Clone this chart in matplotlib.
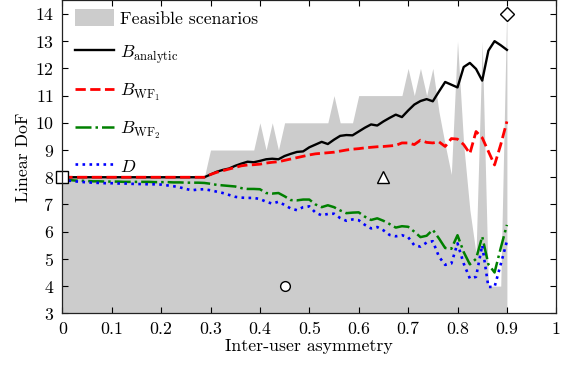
import numpy as np
import matplotlib
matplotlib.use("Agg")
import matplotlib.pyplot as plt
from matplotlib.patches import Patch
from matplotlib.lines import Line2D

plt.rcParams['font.family'] = ['cmr10', 'DejaVu Serif']
plt.rcParams['mathtext.fontset'] = 'cm'
plt.rcParams['axes.formatter.use_mathtext'] = True

# ---- data (inter-user asymmetry grid: 0 .. 0.9, step 0.0125) ----
asym = [i * 0.0125 for i in range(73)]

feasible_upper = [8] * 24 + [9] * 8 + [10, 9, 10, 9] + [10] * 8 + [11, 10, 10, 10] + [11] * 8 + \
    [12, 11, 12, 11, 12, 10.4, 9.2, 8.1, 13, 9.2, 6.8, 5.2, 13, 4, 4, 4, 14.5]
feasible_lower = 3

B_analytic = [8.0] * 24 + [8.1, 8.2, 8.27, 8.32, 8.42, 8.5, 8.57, 8.55, 8.6, 8.66, 8.68, 8.66,
              8.78, 8.86, 8.93, 8.95, 9.1, 9.2, 9.3, 9.22, 9.38, 9.52, 9.55, 9.54, 9.68, 9.82,
              9.94, 9.9, 10.05, 10.18, 10.3, 10.21, 10.45, 10.67, 10.8, 10.87, 10.79, 11.15,
              11.5, 11.4, 11.3, 12.05, 12.2, 11.98, 11.55, 12.65, 13.0, 12.85, 12.68]

B_WF1 = [8.0] * 24 + [8.1, 8.18, 8.24, 8.3, 8.36, 8.42, 8.45, 8.46, 8.48, 8.52, 8.55, 8.57,
         8.62, 8.67, 8.72, 8.77, 8.82, 8.86, 8.88, 8.9, 8.92, 8.96, 9.0, 9.03, 9.05, 9.08,
         9.1, 9.12, 9.13, 9.15, 9.17, 9.26, 9.26, 9.2, 9.36, 9.28, 9.26, 9.3, 9.13, 9.42,
         9.4, 9.2, 8.87, 9.68, 9.45, 8.95, 8.45, 9.2, 10.05]

B_WF2 = [8.0, 7.9, 7.88, 7.87, 7.86, 7.85, 7.85, 7.84, 7.84, 7.84, 7.83, 7.83, 7.83, 7.83,
         7.83, 7.82, 7.82, 7.82, 7.81, 7.81, 7.8, 7.8, 7.8, 7.79, 7.76, 7.72, 7.7, 7.68,
         7.66, 7.6, 7.57, 7.57, 7.56, 7.42, 7.4, 7.42, 7.3, 7.16, 7.15, 7.18, 7.18, 7.0,
         6.9, 6.97, 6.9, 6.78, 6.68, 6.7, 6.71, 6.55, 6.43, 6.49, 6.4, 6.28, 6.15, 6.2,
         6.18, 6.0, 5.8, 5.85, 6.07, 5.75, 5.4, 5.37, 5.87, 5.25, 4.8, 5.0, 5.82, 4.8,
         4.5, 5.4, 6.25]

D = [8.0, 7.88, 7.85, 7.83, 7.81, 7.8, 7.79, 7.78, 7.78, 7.77, 7.77, 7.76, 7.75, 7.75,
     7.74, 7.74, 7.73, 7.7, 7.67, 7.63, 7.57, 7.52, 7.55, 7.56, 7.52, 7.47, 7.42, 7.35,
     7.28, 7.25, 7.24, 7.24, 7.2, 7.1, 7.03, 7.1, 6.98, 6.85, 6.79, 6.9, 6.93, 6.7, 6.6,
     6.65, 6.66, 6.5, 6.4, 6.45, 6.42, 6.25, 6.12, 6.17, 6.05, 5.88, 5.83, 5.87, 5.8,
     5.5, 5.45, 5.6, 5.65, 5.08, 4.78, 4.83, 5.57, 4.83, 4.28, 4.34, 5.5, 3.97, 3.97,
     4.8, 5.65]

# special scenarios (markers)
square_pt = (0.0, 8)
circle_pt = (0.45, 4)
triangle_pt = (0.65, 8)
diamond_pt = (0.9, 14)

xticks = [0, 0.1, 0.2, 0.3, 0.4, 0.5, 0.6, 0.7, 0.8, 0.9, 1]
xtick_labels = ['0', '0.1', '0.2', '0.3', '0.4', '0.5', '0.6', '0.7', '0.8', '0.9', '1']
yticks = list(range(3, 15))

# ---- figure ----
fig = plt.figure(figsize=(5.69, 3.68), dpi=100)
ax = fig.add_axes([0.1095, 0.1486, 0.8682, 0.8505])

fs = 12.8
ax.fill_between(asym, feasible_lower, feasible_upper, color='#cccccc', lw=0, zorder=1)
ax.plot(asym, B_analytic, color='black', lw=1.7, ls='-', zorder=4)
ax.plot(asym, B_WF1, color='#ff0000', lw=2.0, ls='--', zorder=4)
ax.plot(asym, B_WF2, color='#008000', lw=1.8, ls='-.', zorder=3)
ax.plot(asym, D, color='#0000ff', lw=1.9, ls=':', zorder=3)

mk = dict(mfc='white', mec='black', mew=1.0, ls='none', zorder=6, clip_on=False)
ax.plot([square_pt[0]], [square_pt[1]], marker='s', ms=8, **mk)
ax.plot([circle_pt[0]], [circle_pt[1]], marker='o', ms=7, **mk)
ax.plot([triangle_pt[0]], [triangle_pt[1]], marker='^', ms=9, **mk)
ax.plot([diamond_pt[0]], [diamond_pt[1]], marker='D', ms=7, **mk)

ax.set_xlim(0, 1)
ax.set_ylim(3, 14.5)
ax.set_xticks(xticks)
ax.set_xticklabels(xtick_labels)
ax.set_yticks(yticks)
ax.tick_params(direction='in', top=True, right=True, length=4, width=0.8,
               labelsize=fs, pad=6)
for s in ax.spines.values():
    s.set_linewidth(0.9)
    s.set_color('#222222')
    s.set_zorder(7)

ax.set_xlabel('Inter-user asymmetry', fontsize=fs, labelpad=1)
ax.set_ylabel('Linear DoF', fontsize=fs, labelpad=3)

handles = [Patch(facecolor='#cccccc', edgecolor='none'),
           Line2D([], [], color='black', lw=1.7, ls='-'),
           Line2D([], [], color='#ff0000', lw=2.0, ls='--'),
           Line2D([], [], color='#008000', lw=1.8, ls='-.'),
           Line2D([], [], color='#0000ff', lw=1.9, ls=':')]
labels = ['Feasible scenarios', r'$B_{\mathrm{analytic}}$', r'$B_{\mathrm{WF}_1}$',
          r'$B_{\mathrm{WF}_2}$', r'$D$']
leg = ax.legend(handles, labels, loc='upper left', bbox_to_anchor=(0.011, 0.995),
                frameon=False, fontsize=fs, handlelength=2.2, handleheight=1.1,
                handletextpad=0.35, labelspacing=0.9, borderpad=0.2, borderaxespad=0.2)
leg.set_zorder(8)

fig.savefig('out.png', dpi=100)
